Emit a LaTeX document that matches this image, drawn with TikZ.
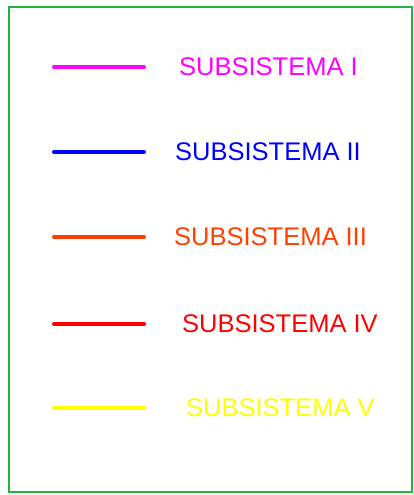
\documentclass[tikz,border=0pt]{standalone}
\usepackage{fontspec}
\setmainfont{Liberation Sans}
\usetikzlibrary{positioning}

\definecolor{subI}{RGB}{255,0,255}
\definecolor{subII}{RGB}{0,0,255}
\definecolor{subIII}{RGB}{255,64,0}
\definecolor{subIV}{RGB}{255,0,0}
\definecolor{subV}{RGB}{255,255,0}
\definecolor{frame}{RGB}{34,180,60}

\begin{document}
\begin{tikzpicture}
	[   x=1pt,y=-1pt,
	    lnode/.style={text=#1,font=\fontsize{25.5}{30}\selectfont,inner sep=0pt,anchor=base west},
	]
	\tikzset{legend line/.style={draw=#1,line width=4pt,line cap=round}}
	\useasboundingbox (0,0) rectangle (414,495);
	\draw[frame,line width=2pt] (8.5,7.5) rectangle (412,491.5);
	
	\foreach \y/\xt/\t in {67/180/I, 152/176/II, 237/175/III, 324/183/IV, 408/187/V}
	{
		\coordinate (a-\t) at (54,\y);
		\coordinate (b-\t) at (144,\y);
		\path[legend line=sub\t] (a-\t) -- (b-\t);
		\node[lnode=sub\t] (s-\t) at (\xt-1,\y+8.5) {SUBSISTEMA \t};
	}
\end{tikzpicture}
\end{document}
